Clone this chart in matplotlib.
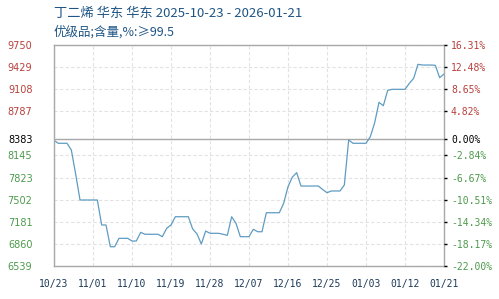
import matplotlib
matplotlib.use("Agg")
import matplotlib.pyplot as plt
import pandas as pd

title = "丁二烯 华东 华东 2025-10-23 - 2026-01-21"
subtitle = "优级品;含量,%:≥99.5"

dates = pd.date_range("2025-10-23", "2026-01-21", freq="D")
prices = [
    8365, 8322, 8322, 8322, 8224, 7874, 7498, 7498, 7498, 7498,
    7498, 7135, 7135, 6819, 6819, 6941, 6941, 6941, 6902, 6902,
    7028, 7000, 7000, 7000, 7000, 6965, 7087, 7135, 7255, 7255,
    7255, 7255, 7077, 7004, 6859, 7047, 7014, 7014, 7014, 7000,
    6985, 7255, 7159, 6965, 6965, 6965, 7072, 7037, 7037, 7313,
    7313, 7313, 7313, 7450, 7690, 7830, 7895, 7701, 7701, 7701,
    7701, 7701, 7650, 7604, 7629, 7629, 7629, 7716, 8370, 8322,
    8322, 8322, 8322, 8418, 8620, 8917, 8868, 9090, 9106, 9106,
    9106, 9106, 9193, 9266, 9469, 9459, 9459, 9459, 9455, 9275,
    9329,
]

base = 8383
left_ticks = [9750, 9429, 9108, 8787, 8383, 8145, 7823, 7502, 7181, 6860, 6539]
right_labels = ["16.31%", "12.48%", "8.65%", "4.82%", "0.00%", "-2.84%",
                "-6.67%", "-10.51%", "-14.34%", "-18.17%", "-22.00%"]
x_ticks = ["2025-10-23", "2025-11-01", "2025-11-10", "2025-11-19", "2025-11-28",
           "2025-12-07", "2025-12-16", "2025-12-25", "2026-01-03", "2026-01-12",
           "2026-01-21"]

RED = "#b8403c"
GREEN = "#4c9a4c"
GRID = "#e2e2e2"
FRAME = "#a8a8a8"


def tick_color(v):
    if v > base:
        return RED
    if v < base:
        return GREEN
    return "black"


fig = plt.figure(figsize=(4.99, 2.99), dpi=100)
ax = fig.add_axes([54 / 499, 33 / 299, 390 / 499, 221 / 299])

ax.plot(dates, prices, color="#5f9cc2", lw=0.9)

ax.set_xlim(dates[0], dates[-1])
ax.set_ylim(left_ticks[-1], left_ticks[0])

xt = pd.to_datetime(x_ticks)
ax.set_xticks(xt)
ax.set_xticklabels([d.strftime("%m/%d") for d in xt], family="DejaVu Sans Mono",
                   fontsize=7, color="#1c3a58")
ax.tick_params(axis="x", length=0, pad=9.5)

ax.set_yticks(left_ticks)
ax.set_yticklabels([str(v) for v in left_ticks], fontsize=7)
ax.tick_params(axis="y", length=0, pad=15.5)
for lab, v in zip(ax.get_yticklabels(), left_ticks):
    lab.set_color(tick_color(v))

for v in left_ticks:
    if v == base:
        ax.axhline(v, color=FRAME, lw=1.0, zorder=1)
    else:
        ax.axhline(v, color=GRID, lw=0.8, ls=(0, (3, 2)), zorder=0)
for d in xt:
    ax.axvline(d, color=GRID, lw=0.8, ls=(0, (3, 2)), zorder=0)

for s in ax.spines.values():
    s.set_color(FRAME)
    s.set_linewidth(1.0)

ax2 = ax.twinx()
ax2.set_ylim(ax.get_ylim())
ax2.set_yticks(left_ticks)
ax2.set_yticklabels(right_labels, family="DejaVu Sans Mono", fontsize=7)
ax2.tick_params(axis="y", length=2, width=1, pad=3)
for lab, tk, v in zip(ax2.get_yticklabels(), ax2.yaxis.get_major_ticks(), left_ticks):
    lab.set_color(tick_color(v))
    tk.tick2line.set_color(tick_color(v))
for s in ax2.spines.values():
    s.set_visible(False)

font = ["Noto Sans CJK SC", "DejaVu Sans"]
fig.text(54 / 499, 1 - 13 / 299, title, family=font, fontsize=9.5,
         color="#1f5585", va="center", ha="left")
fig.text(54 / 499, 1 - 32 / 299, subtitle, family=font, fontsize=9,
         color="#1f5585", va="center", ha="left")

fig.savefig("out.png", dpi=100)
